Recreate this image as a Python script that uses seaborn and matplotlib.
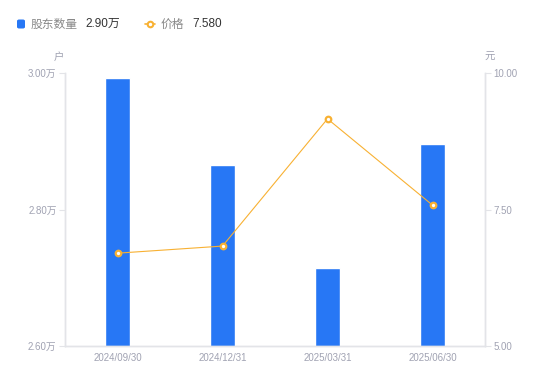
import matplotlib
matplotlib.use("Agg")
import matplotlib.pyplot as plt
from matplotlib.lines import Line2D
from matplotlib.patches import FancyBboxPatch
import seaborn as sns
import pandas as pd

dates = ["2024/09/30", "2024/12/31", "2025/03/31", "2025/06/30"]
holders = [2.993, 2.865, 2.714, 2.896]   # 万户
prices = [6.70, 6.83, 9.16, 7.58]        # 元
left_ticks = [2.60, 2.80, 3.00]
right_ticks = [5.00, 7.50, 10.00]
legend_names = ["股东数量", "价格"]
legend_values = ["2.90万", "7.580"]

sns.set_theme(style="white")
plt.rcParams['font.family'] = ['Liberation Sans', 'Noto Sans CJK SC', 'DejaVu Sans']

BLUE = "#2777F5"
ORANGE = "#F8B133"
TICK = "#A0A2B2"
SPINE = "#E3E4E8"

df = pd.DataFrame({"date": dates, "holders": holders, "price": prices})

fig = plt.figure(figsize=(5.5, 3.81), dpi=100)
ax = fig.add_axes([65/550, 35/381, 420/550, 273/381])
sns.barplot(data=df, x="date", y="holders", color=BLUE, width=0.24,
            saturation=1, ax=ax, zorder=2)
ax.set_ylim(2.60, 3.00)
ax.set_yticks(left_ticks)
ax.set_yticklabels([f"{v:.2f}万" for v in left_ticks])
ax.set_xlabel("")
ax.set_ylabel("")

ax2 = ax.twinx()
sns.pointplot(data=df, x="date", y="price", color=ORANGE, markers="o",
              linewidth=0.8, markersize=4, ax=ax2, zorder=3)
for ln in ax2.lines:
    ln.set_markerfacecolor("white")
    ln.set_markeredgecolor(ORANGE)
    ln.set_markeredgewidth(1.6)
ax2.set_ylim(5.0, 10.0)
ax2.set_yticks(right_ticks)
ax2.set_yticklabels([f"{v:.2f}" for v in right_ticks])
ax2.set_xlabel("")
ax2.set_ylabel("")
ax2.set_xlim(-0.5, 3.5)
ax.set_xlim(-0.5, 3.5)

for a in (ax, ax2):
    for s in a.spines.values():
        s.set_color(SPINE)
        s.set_linewidth(1.0)
    a.spines["top"].set_visible(False)
    a.tick_params(axis="both", colors=SPINE, labelcolor=TICK, labelsize=7,
                  length=4, width=0.8, pad=2)
ax.tick_params(axis="x", length=0, pad=5)
ax2.tick_params(axis="x", length=0)
ax.grid(False)
ax2.grid(False)

# unit labels
fig.text(59/550, 1 - 57/381, "户", color=TICK, fontsize=7.5, ha="center", va="center",
         family=["Noto Sans CJK SC"])
fig.text(490/550, 1 - 57/381, "元", color=TICK, fontsize=7.5, ha="center", va="center",
         family=["Noto Sans CJK SC"])

# legend
ly = 1 - 24/381
sq = FancyBboxPatch((17/550, ly - 4.5/381), 8/550, 9/381,
                    boxstyle="round,pad=0,rounding_size=0.004",
                    transform=fig.transFigure, facecolor=BLUE, edgecolor="none")
fig.add_artist(sq)
fig.text(31/550, ly, legend_names[0], color="#888888", fontsize=8.5, va="center",
         family=["Noto Sans CJK SC"])
fig.text(85/550, ly, legend_values[0], color="#333333", fontsize=8.5, va="center",
         family=["Liberation Sans", "Noto Sans CJK SC"])
fig.add_artist(Line2D([145/550, 155/550], [ly, ly], transform=fig.transFigure,
                      color=ORANGE, linewidth=1.2))
fig.add_artist(Line2D([150/550], [ly], transform=fig.transFigure, color=ORANGE,
                      marker="o", markersize=4, markerfacecolor="white",
                      markeredgewidth=1.5))
fig.text(161/550, ly, legend_names[1], color="#888888", fontsize=8.5, va="center",
         family=["Noto Sans CJK SC"])
fig.text(192/550, ly, legend_values[1], color="#333333", fontsize=8.5, va="center",
         family=["Liberation Sans"])

fig.savefig("out.png", dpi=100)
